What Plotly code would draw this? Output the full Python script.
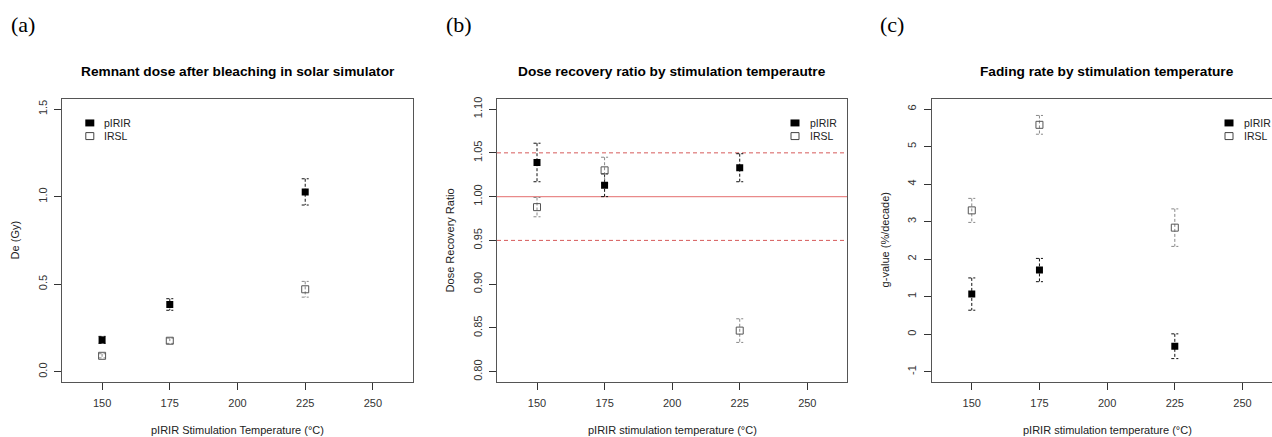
import plotly.graph_objects as go

# ---------------- data ----------------
temps = [150, 175, 225]
series_names = ["pIRIR", "IRSL"]
x_ticks = [150, 175, 200, 225, 250]

# (a) remnant dose
remnant_pirir = [0.182, 0.384, 1.027]
remnant_pirir_err = [0.020, 0.033, 0.075]
remnant_irsl = [0.091, 0.177, 0.471]
remnant_irsl_err = [0.012, 0.015, 0.045]

# (b) dose recovery ratio
recovery_pirir = [1.039, 1.013, 1.033]
recovery_pirir_err = [0.022, 0.013, 0.016]
recovery_irsl = [0.988, 1.030, 0.847]
recovery_irsl_err = [0.011, 0.015, 0.0135]
recovery_ref_solid = [1.00]
recovery_ref_dashed = [0.95, 1.05]

# (c) fading rate
gvalue_pirir = [1.07, 1.71, -0.32]
gvalue_pirir_err = [0.43, 0.31, 0.33]
gvalue_irsl = [3.30, 5.58, 2.84]
gvalue_irsl_err = [0.32, 0.25, 0.50]

titles = ["Remnant dose after bleaching in solar simulator",
          "Dose recovery ratio by stimulation temperautre",
          "Fading rate by stimulation temperature"]
x_titles = ["pIRIR Stimulation Temperature (°C)",
            "pIRIR stimulation temperature (°C)",
            "pIRIR stimulation temperature (°C)"]
y_titles = ["De (Gy)", "Dose Recovery Ratio", "g-value (%/decade)"]
panel_labels = ["(a)", "(b)", "(c)"]

a_yticks = [0.0, 0.5, 1.0, 1.5]
a_yticktext = ["0.0", "0.5", "1.0", "1.5"]
b_yticks = [0.80, 0.85, 0.90, 0.95, 1.00, 1.05, 1.10]
b_yticktext = ["0.80", "0.85", "0.90", "0.95", "1.00", "1.05", "1.10"]
c_yticks = [-1, 0, 1, 2, 3, 4, 5, 6]

# ---------------- layout geometry ----------------
W, H = 1272, 437
box_x = [(62, 413), (497, 847.3), (931.7, 1272)]
box_top, box_bot = 97, 382
x_ranges = [[135.2, 264.8], [135.2, 264.8], [135.2, 260.9]]
y_ranges = [[-0.06, 1.56], [0.788, 1.112], [-1.28, 6.28]]
cap_half = 1.3

fig = go.Figure()


def err_path(xs, ys, es):
    px, py = [], []
    for x, y, e in zip(xs, ys, es):
        px += [x - cap_half, x + cap_half, None, x, x, None, x - cap_half, x + cap_half, None]
        py += [y + e, y + e, None, y + e, y - e, None, y - e, y - e, None]
    return px, py


panels = [
    (remnant_pirir, remnant_pirir_err, remnant_irsl, remnant_irsl_err),
    (recovery_pirir, recovery_pirir_err, recovery_irsl, recovery_irsl_err),
    (gvalue_pirir, gvalue_pirir_err, gvalue_irsl, gvalue_irsl_err),
]

font_main = "Liberation Sans, Arial, sans-serif"

for i, (p, pe, r, re_) in enumerate(panels):
    xa = "x" if i == 0 else f"x{i+1}"
    ya = "y" if i == 0 else f"y{i+1}"
    ex, ey = err_path(temps, p, pe)
    fig.add_trace(go.Scatter(x=ex, y=ey, mode="lines", xaxis=xa, yaxis=ya,
                             line=dict(color="#111111", width=1, dash="3px,2px"),
                             hoverinfo="skip", showlegend=False))
    ex, ey = err_path(temps, r, re_)
    fig.add_trace(go.Scatter(x=ex, y=ey, mode="lines", xaxis=xa, yaxis=ya,
                             line=dict(color="#888888", width=1, dash="3px,2px"),
                             hoverinfo="skip", showlegend=False))
    fig.add_trace(go.Scatter(x=temps, y=p, mode="markers", xaxis=xa, yaxis=ya,
                             name=series_names[0], showlegend=False,
                             marker=dict(symbol="square", size=7, color="black",
                                         line=dict(width=0))))
    fig.add_trace(go.Scatter(x=temps, y=r, mode="markers", xaxis=xa, yaxis=ya,
                             name=series_names[1], showlegend=False,
                             marker=dict(symbol="square-open", size=7, color="#555555",
                                         line=dict(width=1))))

# reference lines in (b)
for v in recovery_ref_solid:
    fig.add_shape(type="line", xref="x2 domain", yref="y2", x0=0, x1=1, y0=v, y1=v,
                  line=dict(color="#e98a8a", width=1.2), layer="below")
for v in recovery_ref_dashed:
    fig.add_shape(type="line", xref="x2 domain", yref="y2", x0=0, x1=1, y0=v, y1=v,
                  line=dict(color="#d65a5a", width=1, dash="4px,3px"), layer="below")

axis_common = dict(showgrid=False, zeroline=False, showline=True, linecolor="#555555",
                   linewidth=1, ticks="outside", ticklen=7, tickcolor="#333333",
                   tickfont=dict(family=font_main, size=11, color="#333333"))

ytick_sets = [(a_yticks, a_yticktext), (b_yticks, b_yticktext),
              (c_yticks, [str(v) for v in c_yticks])]

layout_axes = {}
for i in range(3):
    xn = "xaxis" if i == 0 else f"xaxis{i+1}"
    yn = "yaxis" if i == 0 else f"yaxis{i+1}"
    l, r = box_x[i]
    layout_axes[xn] = dict(axis_common, domain=[l / W, r / W], range=x_ranges[i],
                           tickvals=x_ticks, anchor="y" if i == 0 else f"y{i+1}",
                           mirror=True, ticklabelstandoff=4)
    layout_axes[yn] = dict(axis_common, domain=[1 - box_bot / H, 1 - box_top / H],
                           range=y_ranges[i], tickvals=ytick_sets[i][0],
                           ticktext=ytick_sets[i][1], tickangle=-90,
                           anchor="x" if i == 0 else f"x{i+1}",
                           mirror=(i != 2), ticklabelstandoff=3)

annotations = []
for i in range(3):
    l, r = box_x[i]
    cx = (l + r) / 2 if i < 2 else (l + 1282.7) / 2
    annotations.append(dict(text=f"<b>{titles[i]}</b>", x=cx / W, y=1 - 70 / H,
                            xref="paper", yref="paper", showarrow=False,
                            xanchor="center", yanchor="middle",
                            font=dict(family=font_main, size=13.7, color="black")))
    annotations.append(dict(text=x_titles[i], x=cx / W, y=1 - 430 / H,
                            xref="paper", yref="paper", showarrow=False,
                            xanchor="center", yanchor="middle",
                            font=dict(family=font_main, size=11, color="#222222")))
ytitle_x = [15, 450, 885]
for i in range(3):
    annotations.append(dict(text=y_titles[i], x=ytitle_x[i] / W, y=1 - 239.5 / H,
                            xref="paper", yref="paper", showarrow=False, textangle=-90,
                            xanchor="center", yanchor="middle",
                            font=dict(family=font_main, size=11, color="#222222")))
label_x = [9, 444, 878]
for i in range(3):
    annotations.append(dict(text=panel_labels[i], x=label_x[i] / W, y=1 - 23 / H,
                            xref="paper", yref="paper", showarrow=False,
                            xanchor="left", yanchor="middle",
                            font=dict(family="Liberation Serif, serif", size=22, color="black")))

# legends (glyph + label) per panel
legend_sq_x = [89.8, 795, 1229]
legend_rows = [121.5, 134.7]
shapes_extra = []
for i in range(3):
    sx = legend_sq_x[i]
    for k, name in enumerate(series_names):
        yy = legend_rows[k]
        if k == 0:
            shapes_extra.append(dict(type="rect", xref="paper", yref="paper",
                                     x0=(sx - 4.5) / W, x1=(sx + 4.5) / W,
                                     y0=1 - (yy + 3.5) / H, y1=1 - (yy - 3.5) / H,
                                     fillcolor="black", line=dict(width=0)))
        else:
            shapes_extra.append(dict(type="rect", xref="paper", yref="paper",
                                     x0=(sx - 4) / W, x1=(sx + 4) / W,
                                     y0=1 - (yy + 3.5) / H, y1=1 - (yy - 3.5) / H,
                                     fillcolor="white", line=dict(color="#444444", width=1)))
        annotations.append(dict(text=name, x=(sx + 12.5) / W, y=1 - yy / H,
                                xref="paper", yref="paper", showarrow=False,
                                xanchor="left", yanchor="middle",
                                font=dict(family=font_main, size=10.5, color="#222222")))

for s in shapes_extra:
    fig.add_shape(**s)

fig.update_layout(width=W, height=H, margin=dict(l=0, r=0, t=0, b=0),
                  paper_bgcolor="white", plot_bgcolor="white",
                  showlegend=False, annotations=annotations, **layout_axes)

fig.write_html("out.html")
